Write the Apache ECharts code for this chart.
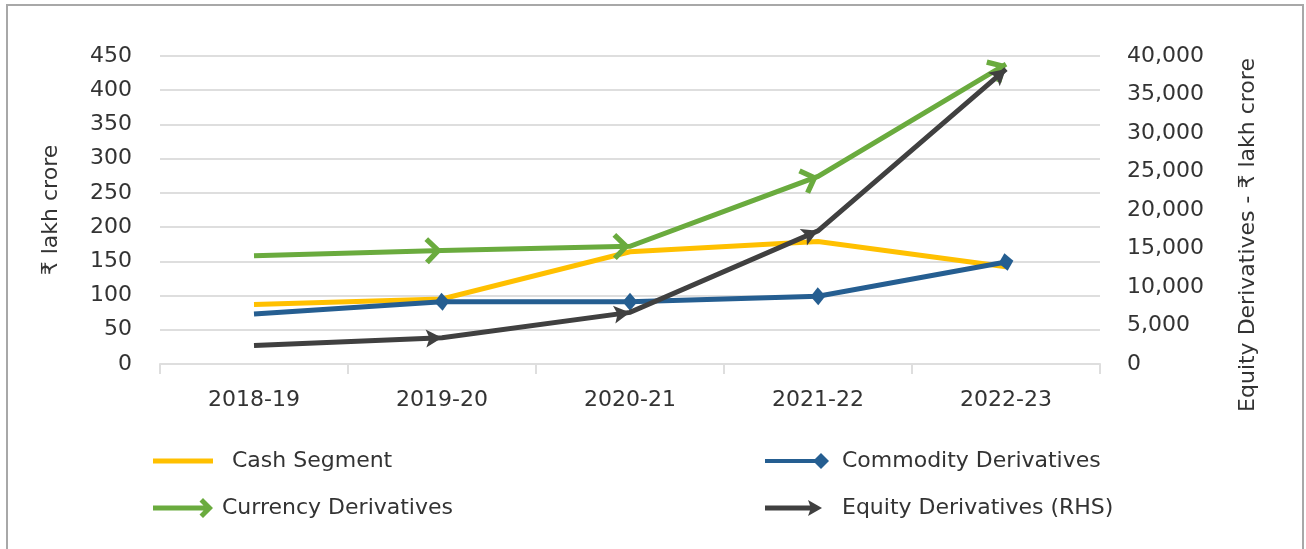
<!DOCTYPE html>
<html>
<head>
<meta charset="utf-8">
<script src="https://cdn.jsdelivr.net/npm/echarts@6/dist/echarts.min.js"></script>
<style>
html,body{margin:0;padding:0;background:#fff;}
#chart{width:1306px;height:549px;}
</style>
</head>
<body>
<div id="chart"></div>
<script>
// ---- data ----
const categories = ['2018-19', '2019-20', '2020-21', '2021-22', '2022-23'];
const cashSegment = [87, 95, 164, 179, 142];
const commodityDerivatives = [73, 91, 91, 99, 149];
const currencyDerivatives = [158, 166, 172, 274, 438];
const equityDerivatives = [2400, 3400, 6700, 17300, 38300];
const seriesNames = ['Cash Segment', 'Commodity Derivatives', 'Currency Derivatives', 'Equity Derivatives (RHS)'];
const leftAxisName = '₹ lakh crore';
const rightAxisName = 'Equity Derivatives - ₹ lakh crore';
const leftAxisRange = [0, 450, 50];
const rightAxisRange = [0, 40000, 5000];

// ---- styles ----
const FONT = 'DejaVu Sans';
const TXT = '#333333';
const GRIDC = '#dedede';
const colors = ['#FFC000', '#255E91', '#6AAB3E', '#404040'];

const chevronPath = 'path://M0,0 L-13.5,13.5 L-17.3,9.8 L-7.5,0 L-17.3,-9.8 L-13.5,-13.5 Z M17.3,0 L17.3,0.01 Z';
const arrowPath = 'path://M0,0 L-16,-9 L-12.5,0 L-16,9 Z M16,0 L16,0.01 Z';

const legendIcons = [
  'path://M0,0 L60,0 L60,5 L0,5 Z M74,2.5 L74,2.51 Z',
  'path://M0,6 L52,6 L52,10 L0,10 Z M48,8 L56,0 L64,8 L56,16 Z M72,8 L72,8.01 Z',
  'path://M0,7.5 L57,7.5 L57,12.5 L0,12.5 Z M60,10 L50,20 L46.5,16.5 L53,10 L46.5,3.5 L50,0 Z M64,10 L64,10.01 Z',
  'path://M0,5.5 L45,5.5 L43,0 L57,8 L43,16 L45,10.5 L0,10.5 Z M72,8 L72,8.01 Z'
];
const legendBoxes = [
  {left: 153, top: 449, w: 74, h: 5},
  {left: 765, top: 449, w: 72, h: 16},
  {left: 153, top: 496, w: 64, h: 20},
  {left: 765, top: 496, w: 72, h: 16}
];

const textStyle = {fontFamily: FONT, fontSize: 22, color: TXT};

function legend(i) {
  const b = legendBoxes[i];
  return {
    left: b.left, top: b.top, padding: 0,
    itemWidth: b.w, itemHeight: b.h,
    symbolKeepAspect: false,
    itemStyle: {borderWidth: 0},
    textStyle: Object.assign({lineHeight: 24}, textStyle),
    data: [{name: seriesNames[i], icon: legendIcons[i]}],
    selectedMode: false
  };
}

function lineSeries(i, values, symbol, size, yAxisIndex) {
  return {
    name: seriesNames[i],
    type: 'line',
    yAxisIndex: yAxisIndex,
    data: values.map((v, k) => k === 0 ? {value: v, symbol: 'none'} : {value: v}),
    symbol: symbol,
    symbolSize: size,
    showSymbol: symbol !== 'none',
    showAllSymbol: true,
    lineStyle: {color: colors[i], width: 5, cap: 'butt', join: 'miter'},
    itemStyle: {color: colors[i], borderWidth: 0},
    emphasis: {disabled: true},
    silent: true,
    animation: false,
    z: 2 + i
  };
}

const chart = echarts.init(document.getElementById('chart'), null, {renderer: 'canvas'});

const option = {
  animation: false,
  backgroundColor: '#ffffff',
  grid: {left: 160, right: 206, top: 56, bottom: 185, containLabel: false},
  legend: [legend(0), legend(1), legend(2), legend(3)],
  xAxis: {
    type: 'category',
    data: categories,
    boundaryGap: true,
    axisLine: {show: true, lineStyle: {color: GRIDC, width: 2}},
    axisTick: {show: true, length: 10, lineStyle: {color: GRIDC, width: 2}},
    axisLabel: Object.assign({margin: 25}, textStyle),
    splitLine: {show: false}
  },
  yAxis: [
    {
      type: 'value',
      min: leftAxisRange[0], max: leftAxisRange[1], interval: leftAxisRange[2],
      name: leftAxisName,
      nameLocation: 'middle',
      nameGap: 98,
      nameTextStyle: textStyle,
      axisLine: {show: false},
      axisTick: {show: false},
      axisLabel: Object.assign({margin: 28}, textStyle),
      splitLine: {show: true, lineStyle: {color: GRIDC, width: 2}}
    },
    {
      type: 'value',
      min: rightAxisRange[0], max: rightAxisRange[1], interval: rightAxisRange[2],
      name: rightAxisName,
      nameLocation: 'middle',
      nameGap: 137,
      nameTextStyle: Object.assign({padding: [0, 50, 0, 0]}, textStyle),
      axisLine: {show: false},
      axisTick: {show: false},
      axisLabel: Object.assign({margin: 27, formatter: v => v.toLocaleString('en-US')}, textStyle),
      splitLine: {show: false}
    }
  ],
  graphic: [{
    type: 'rect',
    shape: {x: 7, y: 5, width: 1296, height: 600},
    style: {fill: 'none', stroke: '#a8a8a8', lineWidth: 2},
    silent: true,
    z: 100
  }],
  series: [
    lineSeries(0, cashSegment, 'none', 0, 0),
    lineSeries(1, commodityDerivatives, 'diamond', [15, 18], 0),
    lineSeries(2, currencyDerivatives, chevronPath, [34.6, 27], 0),
    lineSeries(3, equityDerivatives, arrowPath, [32, 18], 1)
  ]
};

chart.setOption(option);

function segmentAngles(seriesIndex, values) {
  const pts = values.map((v, k) => chart.convertToPixel({seriesIndex: seriesIndex}, [k, v]));
  return pts.map((p, k) => k === 0 ? 0 :
    Math.atan2(-(p[1] - pts[k - 1][1]), p[0] - pts[k - 1][0]) * 180 / Math.PI);
}
function rotatedData(seriesIndex, values) {
  const ang = segmentAngles(seriesIndex, values);
  return values.map((v, k) => k === 0 ? {value: v, symbol: 'none'} : {value: v, symbolRotate: ang[k]});
}

chart.setOption({
  series: [
    {},
    {data: rotatedData(1, commodityDerivatives)},
    {data: rotatedData(2, currencyDerivatives)},
    {data: rotatedData(3, equityDerivatives)}
  ]
});
</script>
</body>
</html>
